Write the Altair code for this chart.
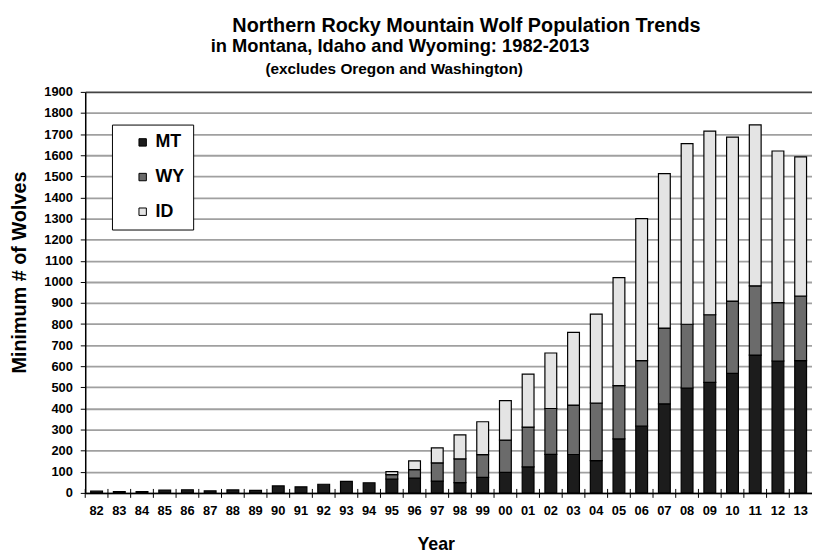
import altair as alt
import pandas as pd

years = ["82", "83", "84", "85", "86", "87", "88", "89", "90", "91", "92", "93", "94",
         "95", "96", "97", "98", "99", "00", "01", "02", "03", "04", "05", "06", "07",
         "08", "09", "10", "11", "12", "13"]
mt = [8, 6, 6, 13, 15, 10, 14, 12, 33, 29, 41, 55, 48,
      66, 70, 56, 49, 74, 97, 123, 183, 182, 153, 256, 316, 422,
      497, 524, 566, 653, 625, 627]
wy = [0, 0, 0, 0, 0, 0, 0, 0, 0, 0, 0, 0, 0,
      21, 40, 86, 112, 107, 153, 189, 217, 234, 272, 252, 311, 359,
      302, 320, 343, 328, 277, 306]
idh = [0, 0, 0, 0, 0, 0, 0, 0, 0, 0, 0, 0, 0,
       14, 42, 71, 114, 156, 187, 251, 263, 345, 422, 512, 673, 732,
       856, 870, 777, 763, 718, 659]
states = ["MT", "WY", "ID"]
state_colors = ["#1c1c1c", "#6b6b6b", "#e4e4e4"]
y_ticks = [0, 100, 200, 300, 400, 500, 600, 700, 800, 900, 1000, 1100, 1200,
           1300, 1400, 1500, 1600, 1700, 1800, 1900]

title1 = "Northern Rocky Mountain Wolf Population Trends"
title2 = "in Montana, Idaho and Wyoming: 1982-2013"
title3 = "(excludes Oregon and Washington)"

rows = []
for i, yr in enumerate(years):
    for k, (st, vals) in enumerate(zip(states, [mt, wy, idh])):
        if vals[i] > 0:
            rows.append({"year": yr, "state": st, "wolves": vals[i], "o": k})
df = pd.DataFrame(rows)
ticks_df = pd.DataFrame({"year": years})

W, H = 734, 405
FONT = "Liberation Sans"

xscale = alt.Scale(domain=years, paddingInner=0, paddingOuter=0)

bars = alt.Chart(df).mark_bar(
    stroke="black", strokeWidth=1.2, width=alt.RelativeBandSize(0.52)
).encode(
    x=alt.X("year:N", sort=years, scale=xscale,
            axis=alt.Axis(title="Year", labelAngle=0, ticks=False, labelPadding=12,
                          labelFont=FONT, labelFontSize=13, labelFontWeight="bold",
                          labelColor="black", domainColor="black", domainWidth=1.5,
                          titleFont=FONT, titleFontSize=18, titleFontWeight="bold",
                          titleColor="black", titleX=354, titleY=52,
                          titleAlign="center", titleBaseline="middle", grid=False)),
    y=alt.Y("wolves:Q", stack="zero",
            scale=alt.Scale(domain=[0, 1900], nice=False),
            axis=alt.Axis(title="Minimum # of Wolves", values=y_ticks, format="d",
                          labelFont=FONT, labelFontSize=13, labelFontWeight="bold",
                          labelColor="black", labelPadding=8, tickSize=5,
                          tickColor="black", domainColor="black", domainWidth=1.5,
                          titleFont=FONT, titleFontSize=20, titleFontWeight="bold",
                          titleColor="black", titleX=-66, titleY=182, titleAngle=-90,
                          titleAlign="center", titleBaseline="middle",
                          grid=True, gridWidth=1.8,
                          gridColor={"condition": {"test": "datum.value == 1900", "value": "#444444"},
                                     "value": "#a0a0a0"})),
    color=alt.Color("state:N", scale=alt.Scale(domain=states, range=state_colors),
                    legend=alt.Legend(title=None, orient="none", legendX=27, legendY=33,
                                      fillColor="white", strokeColor="black", padding=9,
                                      labelFont=FONT, labelFontSize=18, labelFontWeight="bold",
                                      labelColor="black", symbolType="square", symbolSize=56,
                                      symbolStrokeColor="black", symbolStrokeWidth=1,
                                      symbolOffset=13, labelOffset=4, rowPadding=17,
                                      symbolOpacity=1)),
    order=alt.Order("o:Q", sort="ascending"),
)

tick_rules = alt.Chart(ticks_df).mark_rule(color="black", strokeWidth=1).encode(
    x=alt.X("year:N", sort=years, scale=xscale, bandPosition=0),
    y=alt.value(H - 4), y2=alt.value(H + 5),
)

def text_line(txt, x, y, size):
    return alt.Chart(alt.Data(values=[{}])).mark_text(
        font=FONT, fontSize=size, fontWeight="bold", color="black",
        align="center", baseline="alphabetic"
    ).encode(x=alt.value(x), y=alt.value(y), text=alt.value(txt))

chart = alt.layer(
    bars, tick_rules,
    text_line(title1, 385, -60, 20),
    text_line(title2, 318, -40, 18.5),
    text_line(title3, 312, -18, 15.5),
).properties(
    width=W, height=H,
    autosize=alt.AutoSizeParams(type="none"),
    padding={"left": 78, "top": 82, "right": 0, "bottom": 62},
).configure_view(stroke=None).configure(background="white")

chart.save("out.html", embed_options={"renderer": "svg", "actions": False})
